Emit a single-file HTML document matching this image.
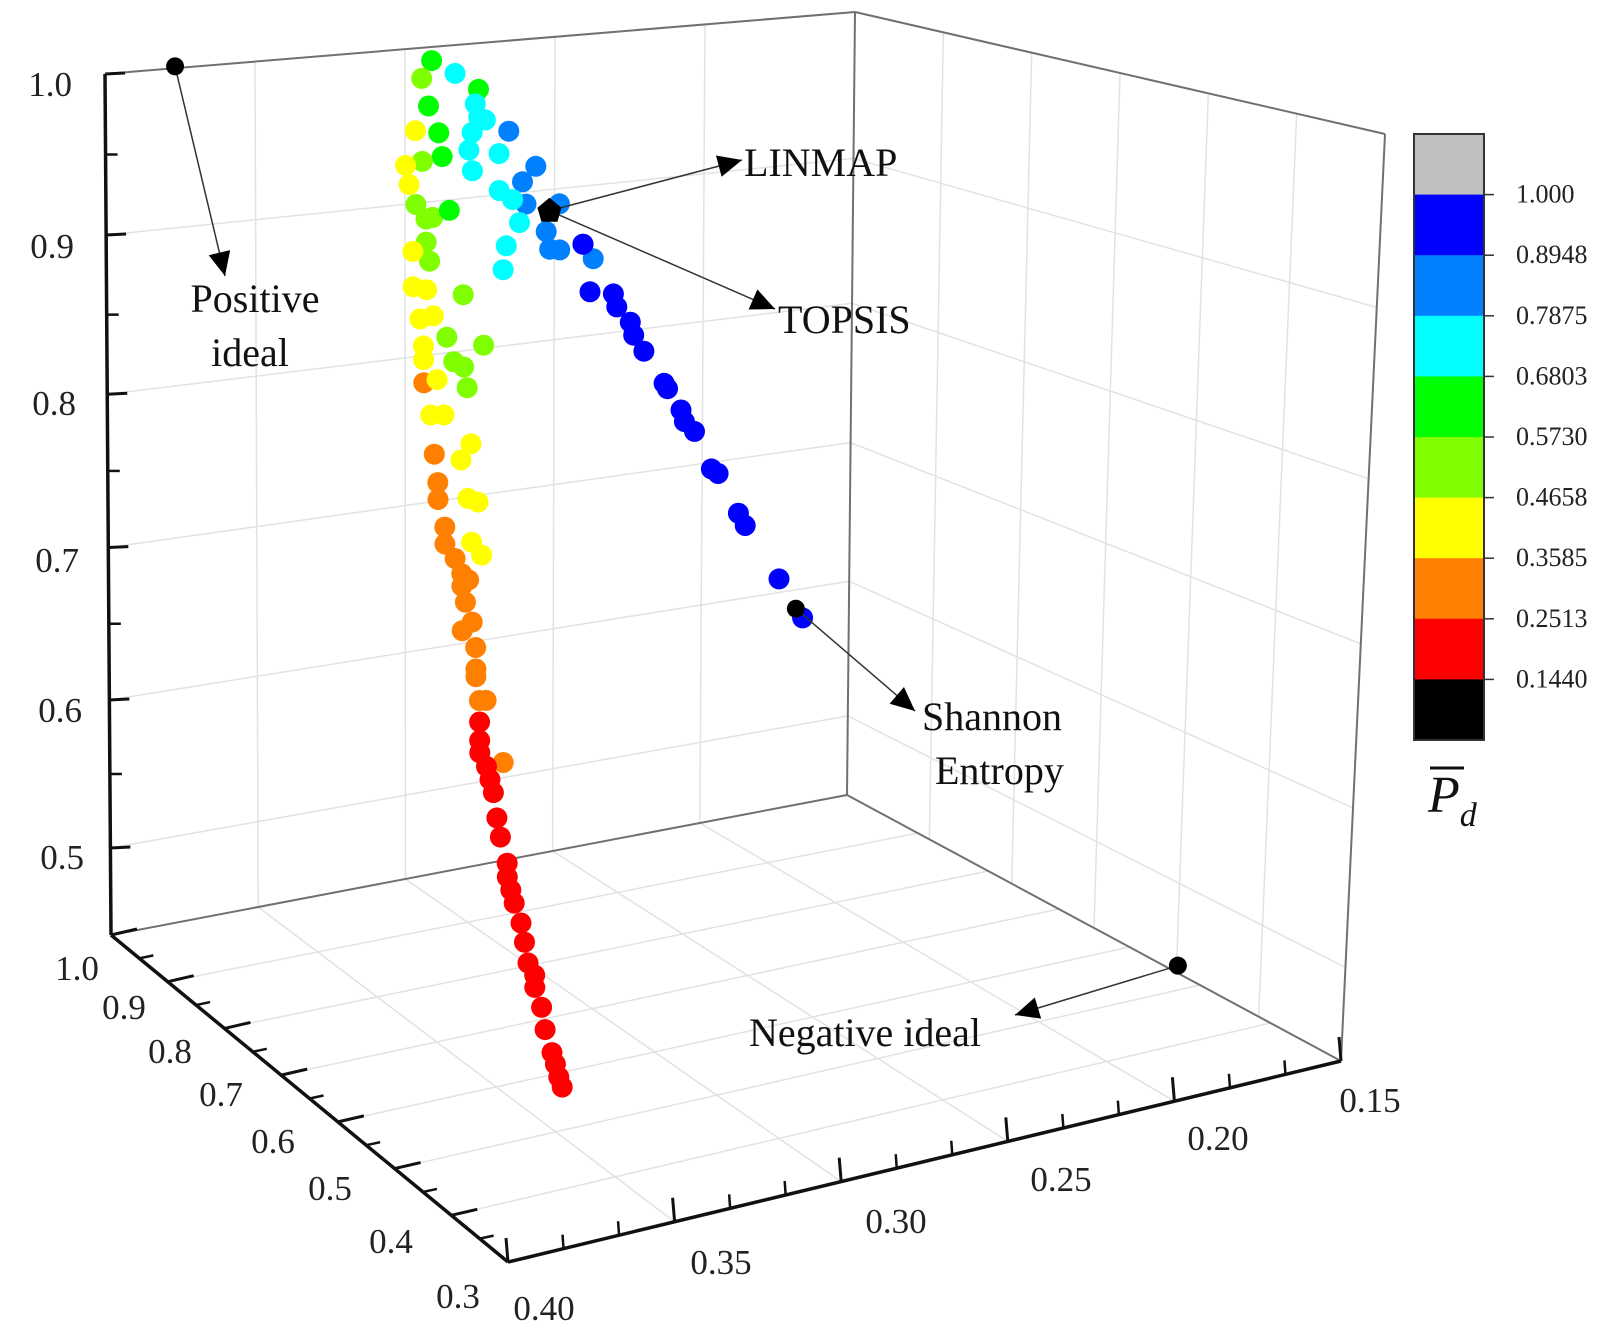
<!DOCTYPE html>
<html><head><meta charset="utf-8"><style>
html,body{margin:0;padding:0;background:#fff;}
svg{display:block;font-family:"Liberation Serif",serif;}
</style></head><body>
<svg id="chart" width="1614" height="1336" viewBox="0 0 1614 1336" xmlns="http://www.w3.org/2000/svg">
<g id="grid"></g>
<g id="frame"></g>
<g id="ticks"></g>
<g id="points"></g>
<g id="annot"></g>
<g id="cbar"></g>
</svg>
<script>
// ---- data ----
const f1 = [0.379,0.382,0.372,0.365,0.380,0.366,0.363,0.365,0.367,0.368,0.367,0.356,0.359,0.384,0.377,0.376,0.382,0.387,0.386,0.348,0.352,0.351,0.359,0.355,0.353,0.357,0.358,0.341,0.345,0.344,0.341,0.331,0.334,0.384,0.381,0.379,0.381,0.380,0.374,0.385,
0.385,0.381,0.370,0.383,0.379,0.375,0.364,0.382,0.382,0.373,0.370,0.369,0.382,0.378,0.380,0.376,0.368,0.371,0.379,0.378,0.378,0.369,0.366,0.376,0.376,0.373,0.371,0.369,0.368,0.365,
0.371,0.370,0.368,0.371,0.367,0.367,0.367,0.366,0.364,0.359,
0.366,0.366,0.364,0.362,0.361,0.360,0.358,0.358,0.356,0.354,0.353,0.352,0.350,0.348,0.347,0.345,0.343,0.342,0.366,0.363,0.357,0.350,0.344,
0.334,0.332,0.325,0.324,0.320,0.319,0.316,0.310,0.309,0.305,0.304,0.301,0.296,0.294,0.288,0.286,0.276,0.269];
const f3 = [1.136,1.126,1.124,1.110,1.107,1.101,1.089,1.092,1.083,1.072,1.058,1.078,1.065,1.093,1.088,1.072,1.072,1.072,1.059,1.051,1.043,1.028,1.041,1.033,1.017,1.004,0.989,1.023,1.007,0.995,0.993,0.982,0.993,1.045,1.034,1.034,1.019,1.006,1.036,1.015,
0.992,0.988,0.979,0.970,0.970,0.954,0.943,0.952,0.943,0.937,0.932,0.918,0.928,0.928,0.906,0.904,0.881,0.872,0.880,0.861,0.850,0.846,0.842,0.831,0.820,0.809,0.798,0.793,0.817,0.807,
0.790,0.779,0.765,0.761,0.748,0.734,0.729,0.713,0.712,0.669,
0.699,0.687,0.669,0.651,0.634,0.621,0.603,0.594,0.576,0.562,0.549,0.535,0.518,0.504,0.489,0.473,0.456,0.449,0.679,0.660,0.585,0.526,0.465,
0.993,0.961,0.956,0.947,0.935,0.926,0.914,0.890,0.886,0.870,0.862,0.854,0.827,0.823,0.794,0.785,0.745,0.716];
const pd = [0.62,0.52,0.73,0.62,0.62,0.73,0.73,0.73,0.73,0.73,0.73,0.84,0.73,0.41,0.62,0.62,0.52,0.41,0.41,0.84,0.84,0.84,0.73,0.73,0.73,0.73,0.73,0.84,0.84,0.84,0.84,0.84,0.95,0.52,0.52,0.52,0.52,0.52,0.62,0.41,
0.41,0.41,0.52,0.41,0.41,0.52,0.52,0.41,0.41,0.52,0.52,0.52,0.30,0.41,0.41,0.41,0.41,0.41,0.30,0.30,0.30,0.41,0.41,0.30,0.30,0.30,0.30,0.30,0.41,0.41,
0.30,0.30,0.30,0.30,0.30,0.30,0.30,0.30,0.30,0.30,
0.20,0.20,0.20,0.20,0.20,0.20,0.20,0.20,0.20,0.20,0.20,0.20,0.20,0.20,0.20,0.20,0.20,0.20,0.20,0.20,0.20,0.20,0.20,
0.95,0.95,0.95,0.95,0.95,0.95,0.95,0.95,0.95,0.95,0.95,0.95,0.95,0.95,0.95,0.95,0.95,0.95];
const cloudDepth = 0.545;
const specialNames = ["positive-ideal","linmap-topsis","shannon-entropy","negative-ideal"];
const specialF1 = [0.379,0.344,0.271,0.161];
const specialF2 = [1.0,0.545,0.545,0.523];
const specialF3 = [0.994,1.020,0.723,0.44];
const cbBounds = ["1.000","0.8948","0.7875","0.6803","0.5730","0.4658","0.3585","0.2513","0.1440"];
const cbColors = ["#c0c0c0","#0000ff","#0080ff","#00ffff","#00ff00","#80ff00","#ffff00","#ff8000","#ff0000","#000000"];
const zTicks = ["1.0","0.9","0.8","0.7","0.6","0.5"];
const yTicks = ["1.0","0.9","0.8","0.7","0.6","0.5","0.4","0.3"];
const xTicks = ["0.40","0.35","0.30","0.25","0.20","0.15"];

function proj(x,y,z){
  const u=(0.40-x)/0.25, v=(y-0.3)/0.7, w=(z-0.44)/0.56;
  return [508+833*u-397*v-6*w, 1262-201*u-327*v-861*w];
}
function colorOf(p){
  const lim=[0.144,0.2513,0.3585,0.4658,0.5730,0.6803,0.7875,0.8948,1.0];
  for(let i=0;i<lim.length;i++){ if(p<lim[i]) return cbColors[9-i]; }
  return cbColors[1];
}
const NS="http://www.w3.org/2000/svg";
function mk(tag,attrs,parent){const e=document.createElementNS(NS,tag);for(const k in attrs)e.setAttribute(k,attrs[k]);parent.appendChild(e);return e;}
const L=(p,a,b,c,d,col,w)=>mk('line',{x1:a,y1:b,x2:c,y2:d,stroke:col,'stroke-width':w},p);
const lerp=(a,b,t)=>[a[0]+(b[0]-a[0])*t,a[1]+(b[1]-a[1])*t];

const grid=document.getElementById('grid');
const TL=[105,74],BL=[111,935],BT=[855,12],BB=[847,795],RT=[1385,134],RB=[1341,1061],FR=[508,1262];
const zf=[0.187,0.372,0.550,0.727,0.899];
const gc="#e2e2e2";
zf.forEach(f=>{
  const a=lerp(TL,BL,f),b=lerp(BT,BB,f),c=lerp(RT,RB,f);
  let g=L(grid,a[0],a[1],b[0],b[1],gc,1.5);
  
  g=L(grid,b[0],b[1],c[0],c[1],gc,1.5);
  
});
for(let k=1;k<5;k++){const t=k/5;const a=lerp(TL,BT,t),b=lerp(BL,BB,t);
  const g=L(grid,a[0],a[1],b[0],b[1],gc,1.5);}
for(let k=1;k<6;k++){const t=k/6;const a=lerp(BT,RT,t),b=lerp(BB,RB,t);
  const g=L(grid,a[0],a[1],b[0],b[1],gc,1.5);}
for(let k=1;k<7;k++){const t=k/7;const a=lerp(BL,FR,t),b=lerp(BB,RB,t);
  const g=L(grid,a[0],a[1],b[0],b[1],gc,1.5);}
for(let k=1;k<5;k++){const t=k/5;const a=lerp(FR,RB,t),b=lerp(BL,BB,t);
  const g=L(grid,a[0],a[1],b[0],b[1],gc,1.5);}

const fr=document.getElementById('frame');
[[TL,BT],[BT,RT],[RT,RB],[BT,BB],[BB,BL],[BB,RB]].forEach(s=>{
  const e=L(fr,s[0][0],s[0][1],s[1][0],s[1][1],"#707070",2);
  });
[[TL,BL],[BL,FR],[FR,RB]].forEach(s=>{
  const e=L(fr,s[0][0],s[0][1],s[1][0],s[1][1],"#111",3.5);
  });

const tk=document.getElementById('ticks');
const zl=[[72,96],[74,258],[76,415],[79,572],[82,722],[84,869]];
for(let i=0;i<6;i++){
  const p=lerp(TL,BL,i===0?0:zf[i-1]);
  L(tk,p[0],p[1],p[0]+20,p[1]-1,"#111",3);
  if(i<5){const q=lerp(TL,BL,((i===0?0:zf[i-1])+zf[i])/2);L(tk,q[0],q[1],q[0]+12,q[1],"#111",2.5);}
  const t=mk('text',{x:zl[i][0],y:zl[i][1],'font-size':35,'text-anchor':'end',fill:'#222'},tk);
  t.textContent=zTicks[i];
  
}
const yl=[[77,968],[124,1007],[170,1051],[221,1094],[273,1141],[330,1188],[391,1241],[458,1296]];
for(let i=0;i<8;i++){
  const p=lerp(BL,FR,i/7);
  L(tk,p[0],p[1],p[0]+26,p[1]-6,"#111",3);
  if(i<7){const q=lerp(BL,FR,(i+0.5)/7);L(tk,q[0],q[1],q[0]+14,q[1]-3,"#111",2.5);}
  const t=mk('text',{x:yl[i][0],y:yl[i][1]+12,'font-size':35,'text-anchor':'middle',fill:'#222'},tk);
  t.textContent=yTicks[i];
  
}
const xl=[[544,1308],[721,1262],[896,1221],[1061,1179],[1218,1138],[1370,1100]];
for(let i=0;i<6;i++){
  const p=lerp(FR,RB,i/5);
  L(tk,p[0],p[1],p[0]-2,p[1]-24,"#111",3);
  if(i<5){for(let m=1;m<3;m++){const q=lerp(FR,RB,(i+m/3)/5);L(tk,q[0],q[1],q[0]-1,q[1]-14,"#111",2.5);}}
  const t=mk('text',{x:xl[i][0],y:xl[i][1]+12,'font-size':35,'text-anchor':'middle',fill:'#222'},tk);
  t.textContent=xTicks[i];
  
}

const pg=document.getElementById('points');
for(let i=0;i<f1.length;i++){
  const s=proj(f1[i],cloudDepth,f3[i]);
  const c=mk('circle',{cx:s[0].toFixed(1),cy:s[1].toFixed(1),r:10.5,fill:colorOf(pd[i])},pg);
  
  
}

const an=document.getElementById('annot');
const tips=[[225,276],[742,160],[915,711],[1015,1015]];
for(let i=0;i<4;i++){
  const s=proj(specialF1[i],specialF2[i],specialF3[i]);
  const ln=mk('line',{x1:s[0],y1:s[1],x2:tips[i][0],y2:tips[i][1],stroke:'#333','stroke-width':1.5},an);
  
  const hd=mk('path',{d:'M-24,-11 L0,0 L-24,11 z',fill:'#000',transform:`translate(${tips[i][0]},${tips[i][1]}) rotate(${Math.atan2(tips[i][1]-s[1],tips[i][0]-s[0])*180/Math.PI})`},an);
  
  if(i===1){const s2=proj(specialF1[1],specialF2[1],specialF3[1]);
    const l2=mk('line',{x1:s2[0],y1:s2[1],x2:775,y2:309,stroke:'#333','stroke-width':1.5},an);
    
    const h2=mk('path',{d:'M-24,-11 L0,0 L-24,11 z',fill:'#000',transform:`translate(775,309) rotate(${Math.atan2(309-s2[1],775-s2[0])*180/Math.PI})`},an);
    }
  const d=mk(i===1?'path':'circle',i===1?{d:`M${s[0]},${s[1]-13} L${s[0]+12},${s[1]-3} L${s[0]+8},${s[1]+11} L${s[0]-8},${s[1]+11} L${s[0]-12},${s[1]-3} z`,fill:'#000'}:{cx:s[0],cy:s[1],r:9,fill:'#000'},an);
  
}
const labels=[["Positive",255,312,"middle"],["ideal",250,366,"middle"],["LINMAP",744,176,"start"],["TOPSIS",778,333,"start"],["Shannon",922,730,"start"],["Entropy",935,784,"start"],["Negative ideal",865,1046,"middle"]];
const lnames=["positive-ideal-label","positive-ideal-label","linmap-label","topsis-label","shannon-entropy-label","shannon-entropy-label","negative-ideal-label"];
labels.forEach((l,i)=>{const t=mk('text',{x:l[1],y:l[2],'font-size':40,'text-anchor':l[3],fill:'#111'},an);t.textContent=l[0];
  });

const cb=document.getElementById('cbar');
const cx0=1414,cw=70,cy0=134,ch=606;
for(let i=0;i<10;i++){
  const r=mk('rect',{x:cx0,y:cy0+ch*i/10,width:cw,height:ch/10+0.5,fill:cbColors[i]},cb);
  
}
mk('rect',{x:cx0,y:cy0,width:cw,height:ch,fill:'none',stroke:'#333','stroke-width':2},cb);
for(let i=0;i<9;i++){
  const y=cy0+ch*(i+1)/10;
  L(cb,cx0+cw,y,cx0+cw+10,y,"#333",1.5);
  const t=mk('text',{x:1516,y:y+8,'font-size':26,fill:'#222'},cb);t.textContent=cbBounds[i];
  
}
const tt=mk('text',{x:1428,y:812,'font-size':52,'font-style':'italic',fill:'#111'},cb);
tt.innerHTML='P<tspan font-size="34" dy="14">d</tspan>';

L(cb,1430,768,1464,768,"#111",3);
</script>
</body></html>
